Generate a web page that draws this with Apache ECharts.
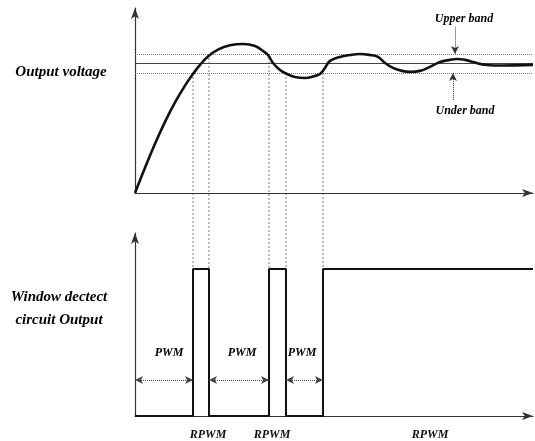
<!DOCTYPE html>
<html><head><meta charset="utf-8">
<script src="https://cdn.jsdelivr.net/npm/echarts@6/dist/echarts.min.js"></script>
<style>html,body{margin:0;padding:0;background:#fff}#c{width:535px;height:441px}</style>
</head><body><div id="c"></div>
<script>
// ---- data ----
const curveX = [0,10,20,30,40,50,58,65,73,83,95,108,120,128,133,138,145,152,160,170,180,185,190,195,205,215,225,235,243,250,258,267,275,285,295,305,315,322,330,338,345,352,365,398];
const curveY = [0,19.5,38,55,70,83,92,99,105.5,110.8,114.2,115.2,113.7,109.8,106.7,100.5,95.1,92.0,89.7,88.9,90.5,92.0,96.7,102.1,105.2,106.7,107.5,106.7,105.2,100.5,96.7,94.4,93.6,94.4,97.5,101.3,102.9,103.6,102.9,101.3,99.8,99.0,98.6,99.0];
const upperBand = 107.5, centerLevel = 100, underBand = 92.8;
const switchX = [58, 74, 134, 151, 188];
const switchBand = ['under','upper','upper','under','under'];
const pulseHigh = 82;
const pwmSpans = [[0,58],[74,134],[151,188]];
const pwmLabelX = [34, 107, 167];
const rpwmLabelX = [73, 137, 295];
const xMax = 398;

const FONT = 'Liberation Serif';
const pulse = [[0,0]];
for (let i = 0; i < switchX.length; i++) {
  const up = i % 2 === 0;
  pulse.push([switchX[i], up ? 0 : pulseHigh]);
  pulse.push([switchX[i], up ? pulseHigh : 0]);
}
pulse.push([xMax, pulseHigh]);

const axLine = {show:true, lineStyle:{color:'#333', width:1.2}, symbol:['none','arrow'], symbolSize:[6,11]};
function xa(g){return {gridIndex:g,type:'value',min:0,max:xMax,axisLine:axLine,axisTick:{show:false},axisLabel:{show:false},splitLine:{show:false}};}
function ya(g,max){return {gridIndex:g,type:'value',min:0,max:max,axisLine:axLine,axisTick:{show:false},axisLabel:{show:false},splitLine:{show:false}};}

const chart = echarts.init(document.getElementById('c'));
const bottomX = xa(1);
bottomX.axisLabel = {show:true, customValues:rpwmLabelX, formatter:()=>'RPWM', margin:13,
  fontFamily:FONT, fontStyle:'italic', fontWeight:'bold', fontSize:12, color:'#111'};

const lblStyle = {fontFamily:FONT, fontStyle:'italic', fontWeight:'bold', color:'#000'};
chart.setOption({
  animation:false,
  grid:[{left:135,width:xMax,top:8,height:185},{left:135,width:xMax,top:233,height:183}],
  xAxis:[xa(0), bottomX],
  yAxis:[ya(0,143), ya(1,102)],
  series:[
    {type:'line', xAxisIndex:0, yAxisIndex:0, data:curveX.map((x,i)=>[x,curveY[i]]), smooth:0.4, showSymbol:false,
     lineStyle:{color:'#111', width:2.6}, z:5,
     markLine:{silent:true, symbol:['none','none'], label:{show:false},
       data:[
        {yAxis:upperBand, lineStyle:{type:'dotted', color:'#777', width:1}},
        {yAxis:centerLevel, lineStyle:{type:'solid', color:'#444', width:1}},
        {yAxis:underBand, lineStyle:{type:'dotted', color:'#777', width:1}},
        [{coord:[320,128], symbol:'none'},{coord:[320,upperBand], symbol:'arrow', symbolSize:[6,8]}],
        [{coord:[318,72], symbol:'none'},{coord:[318,underBand], symbol:'arrow', symbolSize:[6,8]}]
       ].map(d=>{ if(Array.isArray(d)){ d[0].lineStyle={type:'dotted',color:'#333',width:1}; } return d; }),
       lineStyle:{type:'dotted', color:'#333', width:1}
     }},
    {type:'scatter', xAxisIndex:0, yAxisIndex:0, symbolSize:0, silent:true, itemStyle:{opacity:1},
     data:[{value:[329,134.5],name:'Upper band'},{value:[330,63.5],name:'Under band'}],
     label:{show:true, position:'inside', formatter:p=>p.name, fontSize:12, ...lblStyle}},
    {type:'line', xAxisIndex:1, yAxisIndex:1, data:pulse, showSymbol:false, lineStyle:{color:'#111', width:2},
     markLine:{silent:true, symbol:['arrow','arrow'], symbolSize:[6,8], label:{show:false},
       lineStyle:{type:'dotted', color:'#444', width:1},
       data: pwmSpans.map(s=>[{coord:[s[0],20]},{coord:[s[1],20]}])}},
    {type:'scatter', xAxisIndex:1, yAxisIndex:1, symbolSize:0, silent:true, itemStyle:{opacity:1},
     data: pwmLabelX.map(x=>({value:[x,35],name:'PWM'})),
     label:{show:true, position:'inside', formatter:p=>p.name, fontSize:12, ...lblStyle}}
  ]
});

const graphics = [
  {type:'text', style:{text:'Output voltage', x:61, y:72, align:'center', verticalAlign:'middle',
    font:'italic bold 15px "Liberation Serif"', fill:'#000'}},
  {type:'text', style:{text:'Window dectect\ncircuit Output', x:59, y:309, align:'center', verticalAlign:'middle',
    lineHeight:23, font:'italic bold 15px "Liberation Serif"', fill:'#000'}}
];
switchX.forEach((x,i)=>{
  const yb = switchBand[i]==='upper' ? upperBand : underBand;
  const p1 = chart.convertToPixel({gridIndex:0}, [x, yb]);
  const p2 = chart.convertToPixel({gridIndex:1}, [x, pulseHigh]);
  graphics.push({type:'line', silent:true, shape:{x1:p1[0],y1:p1[1],x2:p2[0],y2:p2[1]},
    style:{stroke:'#777', lineWidth:1, lineDash:[2,2]}});
});
chart.setOption({graphic:graphics});
</script></body></html>
